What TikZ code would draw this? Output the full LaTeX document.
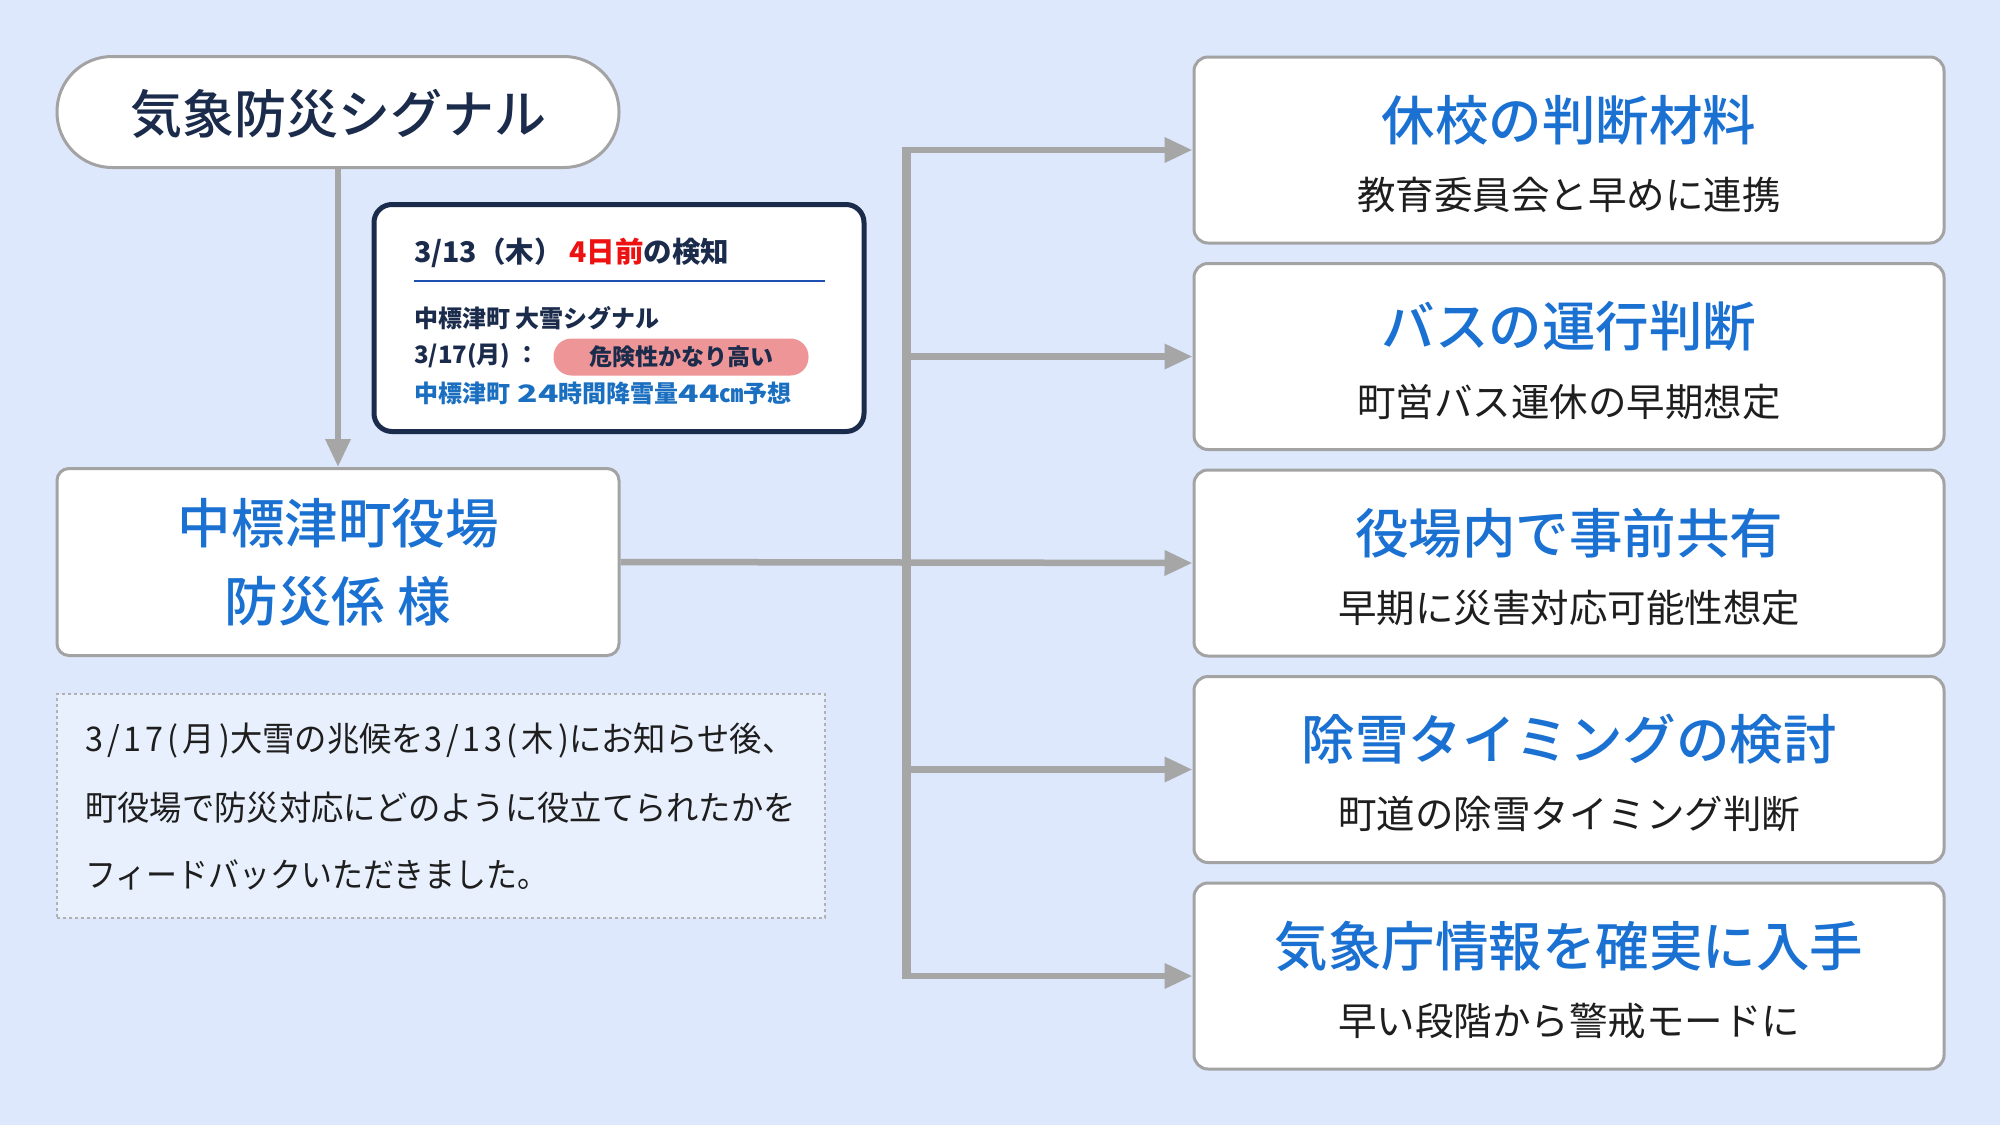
\documentclass[tikz,border=0pt]{standalone}
\usepackage{fontspec}
\setmainfont{Noto Sans CJK JP}
\newfontfamily\medfont{Noto Sans CJK JP Medium}
\usetikzlibrary{arrows.meta}
\definecolor{bg}{HTML}{DDE8FC}
\definecolor{notebg}{HTML}{E9F0FD}
\definecolor{boxline}{HTML}{A3A3A3}
\definecolor{arrgray}{HTML}{A6A6A6}
\definecolor{titleblue}{HTML}{1A71D2}
\definecolor{navy}{HTML}{1B2B4B}
\definecolor{txt}{HTML}{1E1E1E}
\definecolor{alertred}{HTML}{EE1111}
\definecolor{rulblue}{HTML}{1F4FB0}
\definecolor{pinkpill}{HTML}{EE9597}
\definecolor{lineblue}{HTML}{1A6FC0}
\newcommand{\wdig}[2]{{\addfontfeature{FakeStretch=#1}#2}}
\newcommand{\spdig}[2]{{\addfontfeature{LetterSpace=#1}#2}}
\tikzset{
  rbox/.style={draw=boxline, line width=3pt, fill=white, rounded corners=14pt,
    minimum width=750pt, minimum height=186pt, inner sep=0pt},
  rtitle/.style={font=\fontsize{53.5}{60}\medfont, text=titleblue, inner sep=0pt},
  rsub/.style={font=\fontsize{38.5}{46}\selectfont, text=txt, inner sep=0pt},
  arr/.style={draw=arrgray, line width=6.5pt, -{Triangle[length=28pt,width=24pt]}},
  trunk/.style={draw=arrgray, line width=9pt},
  cardtxt/.style={font=\fontsize{24}{28}\selectfont\bfseries, anchor=west, inner sep=0pt},
  notetxt/.style={font=\fontsize{34}{40}\selectfont\addfontfeature{FakeStretch=0.95}, text=txt, anchor=west, inner sep=0pt},
}
\begin{document}
\begin{tikzpicture}[x=1pt,y=-1pt]
\fill[bg] (0,0) rectangle (2000,1125);
\useasboundingbox (0,0) rectangle (2000,1125);

% top pill
\node[draw=boxline, line width=3pt, fill=white, rounded corners=55pt,
  minimum width=562pt, minimum height=111pt, inner sep=0pt] (pill) at (338,112) {};
\node[font=\fontsize{52}{58}\medfont, text=navy] (pillt) at (338,114) {気象防災シグナル};

% office box
\node[draw=boxline, line width=3pt, fill=white, rounded corners=12pt,
  minimum width=562pt, minimum height=187pt, inner sep=0pt] (office) at (338,562) {};
\node[rtitle] (off1) at (338,523) {中標津町役場};
\node[rtitle] (off2) at (338,601) {防災係 様};

% arrow pill -> office
\draw[arr] (pill.south) -- (office.north);

% info card
\node[draw=navy, line width=5pt, fill=white, rounded corners=18pt,
  minimum width=490pt, minimum height=227pt, inner sep=0pt] (card) at (619,318) {};
\node[cardtxt, font=\fontsize{28.5}{32}\selectfont\bfseries, text=navy] (c1) at (414,253)
  {3/13（木） \textcolor{alertred}{4日前}の検知};
\coordinate (rl) at (414,281);
\coordinate (rr) at (825,281);
\draw[rulblue, line width=2.5pt] (rl) -- (rr);
\node[cardtxt, text=navy] (c2) at (414,318) {中標津町 大雪シグナル};
\node[cardtxt, text=navy] (c3) at (414,356) {3/17(月) ：};
\node[fill=pinkpill, rounded corners=18pt, minimum width=255pt, minimum height=37pt,
  inner sep=0pt, font=\fontsize{23}{28}\selectfont\bfseries, text=navy] (alert) at (681,357) {危険性かなり高い};
\node[cardtxt, text=lineblue] (c4) at (414,393) {中標津町\hspace{2pt} \wdig{1.4}{24}時間降雪量\wdig{1.4}{44}㎝予想};

% note
\node[draw=boxline!85, dashed, line width=2pt, fill=notebg,
  minimum width=768pt, minimum height=224pt, inner sep=0pt] (note) at (441,806) {};
\node[notetxt] (n1) at (85,741) {\spdig{12}{3/17(月)}大雪の兆候を\spdig{12}{3/13(木)}にお知らせ後、};
\node[notetxt] (n2) at (85,808) {町役場で防災対応にどのように役立てられたかを};
\node[notetxt] (n3) at (85,875) {\addfontfeature{FakeStretch=0.91}フィードバックいただきました。};

% right boxes
\node[rbox] (b1) at (1569,150) {};
\node[rbox] (b2) at (1569,356.5) {};
\node[rbox] (b3) at (1569,563) {};
\node[rbox] (b4) at (1569,769.5) {};
\node[rbox] (b5) at (1569,976) {};

\node[rtitle] (t1) at (1569,120) {休校の判断材料};
\node[rsub]   (s1) at (1569,195) {教育委員会と早めに連携};
\node[rtitle] (t2) at (1569,326.5) {バスの運行判断};
\node[rsub]   (s2) at (1569,401.5) {町営バス運休の早期想定};
\node[rtitle] (t3) at (1569,533) {役場内で事前共有};
\node[rsub]   (s3) at (1569,608) {早期に災害対応可能性想定};
\node[rtitle] (t4) at (1569,739.5) {除雪タイミングの検討};
\node[rsub]   (s4) at (1569,814.5) {町道の除雪タイミング判断};
\node[rtitle] (t5) at (1569,946) {気象庁情報を確実に入手};
\node[rsub]   (s5) at (1569,1021) {早い段階から警戒モードに};

% trunk and branches
\coordinate (j1) at (906,150);
\coordinate (j2) at (906,356.5);
\coordinate (j4) at (906,769.5);
\coordinate (j5) at (906,976);
\draw[trunk] ([yshift=3.25pt]j1) -- ([yshift=-3.25pt]j5);
\draw[arr] ([xshift=-4.5pt]j1) -- (b1.west);
\draw[arr] (j2) -- (b2.west);
\draw[arr] (office.east) -- (b3.west);
\draw[arr] (j4) -- (b4.west);
\draw[arr] ([xshift=-4.5pt]j5) -- (b5.west);
\end{tikzpicture}
\end{document}
